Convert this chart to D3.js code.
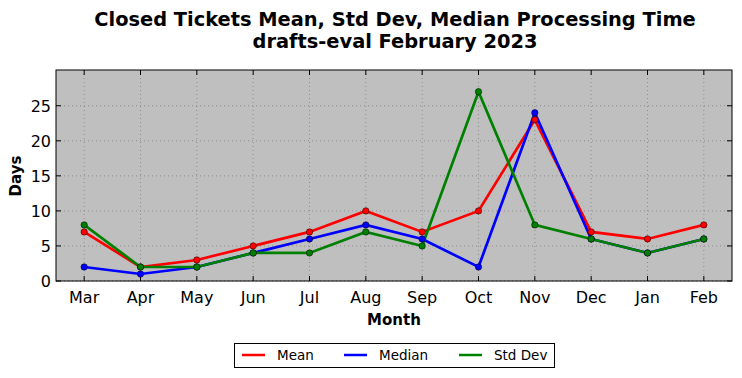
<!DOCTYPE html>
<html><head><meta charset="utf-8">
<script src="https://cdn.jsdelivr.net/npm/d3@7/dist/d3.min.js"></script>
<style>body{margin:0;background:#fff}svg{display:block;font-family:"DejaVu Sans",sans-serif}</style>
</head><body><svg id="c" width="742" height="378"></svg>
<script>
const months = ["Mar","Apr","May","Jun","Jul","Aug","Sep","Oct","Nov","Dec","Jan","Feb"];
const meanVals = [7,2,3,5,7,10,7,10,23,7,6,8];
const medianVals = [2,1,2,4,6,8,6,2,24,6,4,6];
const stdVals = [8,2,2,4,4,7,5,27,8,6,4,6];
const yTicks = [0,5,10,15,20,25];
const seriesNames = ["Mean","Median","Std Dev"];
const seriesColors = ["#ff0000","#0000ff","#008000"];

const svg = d3.select("#c");
const L=56,R=732,T=70,B=281;
const x = d3.scaleLinear().domain([-0.5, months.length-0.5]).range([L,R]);
const y = d3.scaleLinear().domain([0,30.1]).range([B,T]);

svg.append("rect").attr("x",L).attr("y",T).attr("width",R-L).attr("height",B-T).attr("fill","#bfbfbf");

// grid
const g = svg.append("g");
g.selectAll(".vg").data(months).join("line").attr("x1",(d,i)=>x(i)).attr("x2",(d,i)=>x(i)).attr("y1",T).attr("y2",B)
 .attr("stroke","#808080").attr("stroke-width",0.8).attr("stroke-dasharray","1,3");
g.selectAll(".hg").data(yTicks).join("line").attr("x1",L).attr("x2",R).attr("y1",d=>y(d)).attr("y2",d=>y(d))
 .attr("stroke","#808080").attr("stroke-width",0.8).attr("stroke-dasharray","1,3");

// ticks inward
const tk = svg.append("g").attr("stroke","#000").attr("stroke-width",1);
months.forEach((m,i)=>{
  tk.append("line").attr("x1",x(i)).attr("x2",x(i)).attr("y1",B).attr("y2",B-5);
  tk.append("line").attr("x1",x(i)).attr("x2",x(i)).attr("y1",T).attr("y2",T+5);
});
yTicks.forEach(v=>{
  tk.append("line").attr("x1",L).attr("x2",L+5).attr("y1",y(v)).attr("y2",y(v));
  tk.append("line").attr("x1",R).attr("x2",R-5).attr("y1",y(v)).attr("y2",y(v));
});

// tick labels
svg.append("g").selectAll("text").data(months).join("text").attr("x",(d,i)=>x(i)).attr("y",303)
 .attr("text-anchor","middle").attr("font-size",16).text(d=>d);
svg.append("g").selectAll("text").data(yTicks).join("text").attr("x",51).attr("y",d=>y(d)+6)
 .attr("text-anchor","end").attr("font-size",16).text(d=>d);

// series
const data = [meanVals, medianVals, stdVals];
const line = d3.line().x((d,i)=>x(i)).y(d=>y(d));
data.forEach((vals,k)=>{
  svg.append("path").datum(vals).attr("d",line).attr("fill","none").attr("stroke",seriesColors[k]).attr("stroke-width",2.7).attr("stroke-linejoin","miter");
});
data.forEach((vals,k)=>{
  svg.append("g").selectAll("circle").data(vals).join("circle").attr("cx",(d,i)=>x(i)).attr("cy",d=>y(d)).attr("r",3.2)
   .attr("fill",seriesColors[k]).attr("stroke","#000").attr("stroke-width",0.5);
});

svg.append("rect").attr("x",L).attr("y",T).attr("width",R-L).attr("height",B-T).attr("fill","none").attr("stroke","#000").attr("stroke-width",1);

// titles
svg.append("text").attr("x",395).attr("y",26).attr("text-anchor","middle").attr("font-size",19.4).attr("font-weight","bold").text("Closed Tickets Mean, Std Dev, Median Processing Time");
svg.append("text").attr("x",395).attr("y",48).attr("text-anchor","middle").attr("font-size",19.4).attr("font-weight","bold").text("drafts-eval February 2023");
svg.append("text").attr("x",394).attr("y",325).attr("text-anchor","middle").attr("font-size",15).attr("font-weight","bold").text("Month");
svg.append("text").attr("transform","translate(21,176) rotate(-90)").attr("text-anchor","middle").attr("font-size",15).attr("font-weight","bold").text("Days");

// legend
svg.append("rect").attr("x",234.5).attr("y",343.5).attr("width",320).attr("height",24).attr("fill","#fff").attr("stroke","#000").attr("stroke-width",1);
const lx=[242,344,459];
seriesNames.forEach((n,k)=>{
  svg.append("line").attr("x1",lx[k]).attr("x2",lx[k]+23).attr("y1",355).attr("y2",355).attr("stroke",seriesColors[k]).attr("stroke-width",2.5);
  svg.append("text").attr("x",lx[k]+35).attr("y",360).attr("font-size",13.5).text(n);
});
</script></body></html>
